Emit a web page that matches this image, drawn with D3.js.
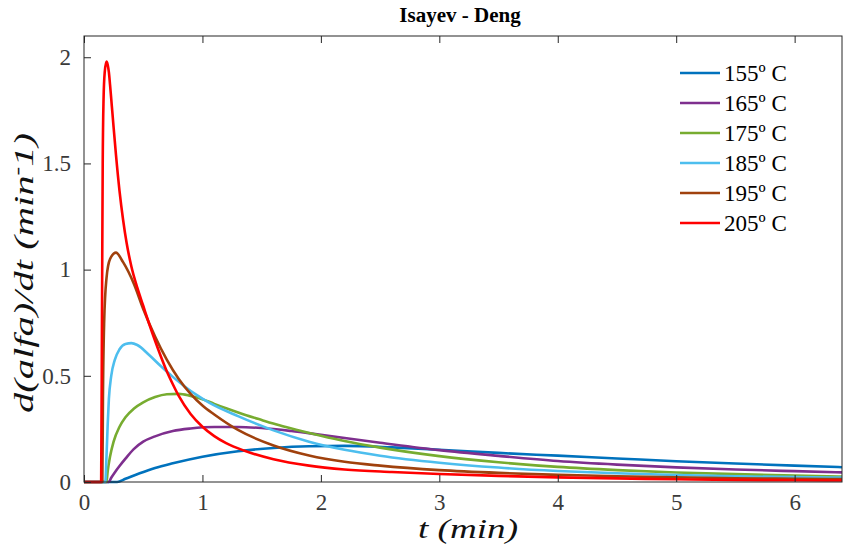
<!DOCTYPE html>
<html>
<head>
<meta charset="utf-8">
<script src="https://cdn.jsdelivr.net/npm/d3@7"></script>
<style>
  body { margin: 0; background: #fff; }
  svg { display: block; }
</style>
</head>
<body>
<div id="chart"></div>
<script>
// series: time (min) and rate d(alfa)/dt (1/min)
const labels = ["155º C", "165º C", "175º C", "185º C", "195º C", "205º C"];
const colors = ["#0072BD", "#7E2F8E", "#77AC30", "#4DBEEE", "#A0410D", "#FF0000"];

const t155 = [0, 0.28, 0.35, 0.47, 0.6, 0.75, 1.0, 1.3, 1.6, 1.9, 2.2, 2.6, 3.0, 3.5, 4.0, 4.5, 5.0, 5.5, 6.0, 6.5];
const y155 = [0, 0, 0.015, 0.041, 0.066, 0.088, 0.119, 0.145, 0.16, 0.168, 0.17, 0.163, 0.152, 0.137, 0.124, 0.111, 0.098, 0.087, 0.077, 0.068];

const t165 = [0, 0.21, 0.23, 0.26, 0.3, 0.35, 0.42, 0.5, 0.6, 0.75, 0.9, 1.1, 1.3, 1.5, 1.75, 2.0, 2.5, 3.0, 3.5, 4.0, 4.5, 5.0, 5.5, 6.0, 6.5];
const y165 = [0, 0, 0.02, 0.045, 0.075, 0.11, 0.155, 0.19, 0.215, 0.24, 0.252, 0.259, 0.259, 0.254, 0.24, 0.222, 0.185, 0.15, 0.123, 0.099, 0.082, 0.069, 0.059, 0.051, 0.044];

const t175 = [0, 0.19, 0.2, 0.22, 0.25, 0.3, 0.35, 0.42, 0.5, 0.6, 0.7, 0.8, 0.9, 1.0, 1.1, 1.2, 1.35, 1.5, 1.65, 1.8, 2.0, 2.2, 2.5, 3.0, 3.5, 4.0, 4.5, 5.0, 5.5, 6.0, 6.5];
const y175 = [0, 0, 0.05, 0.12, 0.19, 0.26, 0.305, 0.345, 0.375, 0.4, 0.413, 0.415, 0.405, 0.39, 0.368, 0.347, 0.318, 0.292, 0.267, 0.245, 0.218, 0.193, 0.162, 0.122, 0.093, 0.071, 0.056, 0.045, 0.037, 0.03, 0.025];

const t185 = [0, 0.18, 0.19, 0.2, 0.21, 0.23, 0.26, 0.3, 0.35, 0.4, 0.45, 0.55, 0.65, 0.75, 0.85, 0.95, 1.06, 1.3, 1.6, 1.9, 2.2, 2.5, 3.0, 3.5, 4.0, 4.5, 5.0, 5.5, 6.0, 6.5];
const y185 = [0, 0, 0.12, 0.27, 0.39, 0.5, 0.575, 0.625, 0.65, 0.654, 0.645, 0.598, 0.545, 0.495, 0.45, 0.41, 0.372, 0.31, 0.243, 0.19, 0.152, 0.124, 0.091, 0.068, 0.052, 0.041, 0.033, 0.027, 0.023, 0.02];

const t195 = [0, 0.155, 0.16, 0.17, 0.19, 0.22, 0.27, 0.33, 0.42, 0.5, 0.6, 0.7, 0.8, 0.9, 1.0, 1.1, 1.3, 1.6, 1.9, 2.2, 2.5, 3.0, 3.5, 4.0, 4.5, 5.0, 5.5, 6.0, 6.5];
const y195 = [0, 0, 0.4, 0.75, 0.96, 1.05, 1.08, 1.035, 0.935, 0.815, 0.685, 0.575, 0.485, 0.415, 0.36, 0.318, 0.245, 0.172, 0.125, 0.095, 0.077, 0.056, 0.043, 0.034, 0.027, 0.022, 0.018, 0.015, 0.013];

const t205 = [0, 0.145, 0.152, 0.158, 0.165, 0.175, 0.19, 0.2, 0.21, 0.22, 0.235, 0.25, 0.27, 0.3, 0.33, 0.36, 0.4, 0.45, 0.5, 0.55, 0.6, 0.65, 0.7, 0.75, 0.8, 0.9, 1.0, 1.1, 1.2, 1.35, 1.6, 1.9, 2.2, 2.6, 3.0, 3.5, 4.0, 4.5, 5.0, 5.5, 6.0, 6.5];
const y205 = [0, 0, 0.8, 1.5, 1.8, 1.93, 1.98, 1.965, 1.93, 1.87, 1.77, 1.67, 1.54, 1.37, 1.235, 1.125, 1.015, 0.915, 0.83, 0.745, 0.665, 0.59, 0.52, 0.46, 0.405, 0.32, 0.26, 0.216, 0.183, 0.148, 0.107, 0.077, 0.059, 0.047, 0.038, 0.029, 0.022, 0.017, 0.013, 0.01, 0.008, 0.007];

const xTicks = [0, 1, 2, 3, 4, 5, 6];
const yTicks = [0, 0.5, 1, 1.5, 2];

const seriesT = [t155, t165, t175, t185, t195, t205];
const seriesY = [y155, y165, y175, y185, y195, y205];

const width = 843, height = 548;
const margin = { top: 36, right: 1, bottom: 66, left: 84 };
const plotW = width - margin.left - margin.right;
const plotH = height - margin.top - margin.bottom;

// font lists did not resolve in the renderer, single name works
const serif = "Liberation Serif";

const svg = d3.select("#chart").append("svg")
  .attr("width", width)
  .attr("height", height);

const x = d3.scaleLinear().domain([0, 6.4]).range([0, plotW]);
const y = d3.scaleLinear().domain([0, 2.1]).range([plotH, 0]);

svg.append("defs").append("clipPath").attr("id", "clip")
  .append("rect").attr("x", 0).attr("y", -2).attr("width", plotW).attr("height", plotH + 4);

const g = svg.append("g").attr("transform", "translate(" + margin.left + "," + margin.top + ")");

// curves, 155 first so the red one ends up on top
const line = d3.line()
  .x(d => x(d[0]))
  .y(d => y(d[1]))
  .curve(d3.curveMonotoneX);

const curves = g.append("g").attr("clip-path", "url(#clip)");
seriesT.forEach((ts, i) => {
  const pts = ts.map((tv, k) => [tv, seriesY[i][k]]);
  curves.append("path")
    .datum(pts)
    .attr("d", line)
    .attr("fill", "none")
    .attr("stroke", colors[i])
    .attr("stroke-width", 2.6)
    .attr("stroke-linejoin", "round");
});

// axes: matlab style box with inward ticks
const axisColor = "#262626";

const xAxis = g.append("g")
  .attr("transform", "translate(0," + plotH + ")")
  .call(d3.axisBottom(x).tickValues(xTicks).tickSizeInner(-7).tickSizeOuter(0).tickPadding(12).tickFormat(d3.format("d")));
const xTop = g.append("g")
  .call(d3.axisTop(x).tickValues(xTicks).tickSizeInner(-7).tickSizeOuter(0).tickFormat(""));
const yAxis = g.append("g")
  .call(d3.axisLeft(y).tickValues(yTicks).tickSizeInner(-7).tickSizeOuter(0).tickPadding(13).tickFormat(d => d));

[xAxis, xTop, yAxis].forEach(a => {
  a.attr("font-family", serif).attr("font-size", 23);
  a.select(".domain").remove();
  a.selectAll(".tick line").attr("stroke", axisColor).attr("stroke-width", 1);
  a.selectAll(".tick text").attr("fill", "#3a3a3a");
});

g.append("rect")
  .attr("x", 0).attr("y", 0)
  .attr("width", plotW).attr("height", plotH)
  .attr("fill", "none")
  .attr("stroke", axisColor)
  .attr("stroke-width", 1);

// title and axis labels
svg.append("text")
  .attr("x", 460)
  .attr("y", 22)
  .attr("text-anchor", "middle")
  .attr("font-family", serif)
  .attr("font-weight", "bold")
  .attr("font-size", 21)
  .attr("fill", "#000")
  .text("Isayev - Deng");

svg.append("text")
  .attr("x", 468)
  .attr("y", 538)
  .attr("text-anchor", "middle")
  .attr("font-family", serif)
  .attr("font-style", "italic")
  .attr("font-size", 28)
  .attr("textLength", 100)
  .attr("lengthAdjust", "spacingAndGlyphs")
  .attr("fill", "#111")
  .text("t (min)");

const yl = svg.append("text")
  .attr("transform", "translate(33,273) rotate(-90)")
  .attr("text-anchor", "middle")
  .attr("font-family", serif)
  .attr("font-style", "italic")
  .attr("font-size", 28)
  .attr("textLength", 280)
  .attr("lengthAdjust", "spacingAndGlyphs")
  .attr("fill", "#111");
yl.append("tspan").text("d(alfa)/dt  (min");
yl.append("tspan").attr("dy", -10).attr("font-size", 18).text("-");
yl.append("tspan").attr("dy", 10).text("1)");

// legend
const legend = svg.append("g");
labels.forEach((lab, i) => {
  const ly = 73 + i * 30;
  legend.append("line")
    .attr("x1", 680).attr("x2", 720)
    .attr("y1", ly).attr("y2", ly)
    .attr("stroke", colors[i])
    .attr("stroke-width", 2.6);
  legend.append("text")
    .attr("x", 724)
    .attr("y", ly + 8)
    .attr("font-family", serif)
    .attr("font-size", 23)
    .attr("fill", "#000")
    .text(lab);
});
</script>
</body>
</html>
